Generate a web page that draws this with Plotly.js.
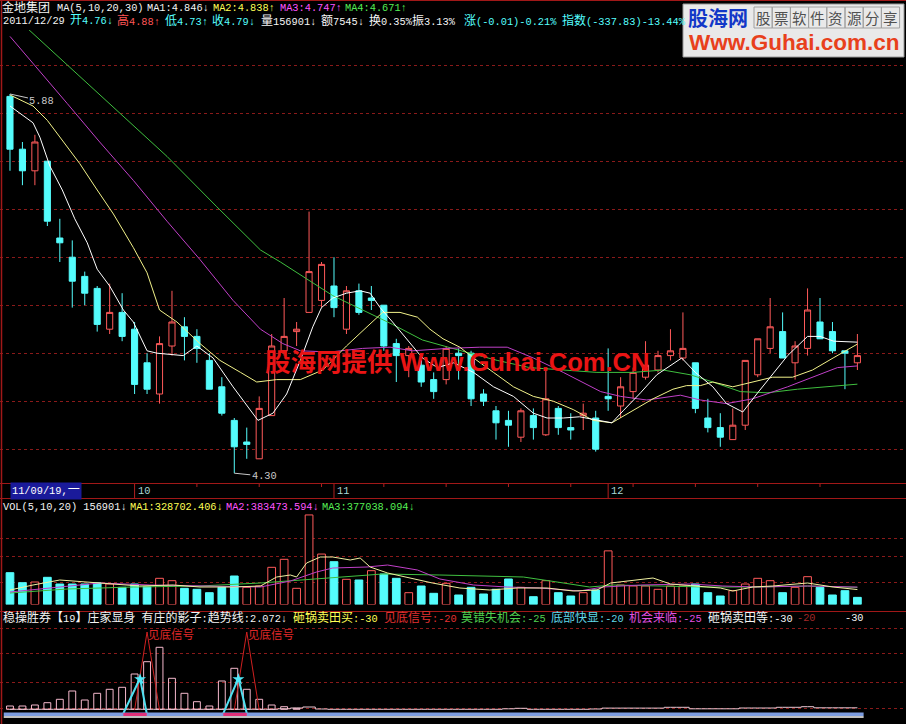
<!DOCTYPE html>
<html><head><meta charset="utf-8">
<script src="https://cdn.plot.ly/plotly-3.0.1.min.js"></script>
<style>html,body{margin:0;padding:0;background:#000;}#chart{width:906px;height:724px;}</style>
</head><body><div id="chart"></div>
<script>
// ---------------- DATA ----------------
const dates = [
 '2011-09-19','2011-09-20','2011-09-21','2011-09-22','2011-09-23','2011-09-26','2011-09-27','2011-09-28','2011-09-29','2011-09-30',
 '2011-10-10','2011-10-11','2011-10-12','2011-10-13','2011-10-14','2011-10-17','2011-10-18','2011-10-19','2011-10-20','2011-10-21',
 '2011-10-24','2011-10-25','2011-10-26','2011-10-27','2011-10-28','2011-10-31',
 '2011-11-01','2011-11-02','2011-11-03','2011-11-04','2011-11-07','2011-11-08','2011-11-09','2011-11-10','2011-11-11','2011-11-14',
 '2011-11-15','2011-11-16','2011-11-17','2011-11-18','2011-11-21','2011-11-22','2011-11-23','2011-11-24','2011-11-25','2011-11-28',
 '2011-11-29','2011-11-30',
 '2011-12-01','2011-12-02','2011-12-05','2011-12-06','2011-12-07','2011-12-08','2011-12-09','2011-12-12','2011-12-13','2011-12-14',
 '2011-12-15','2011-12-16','2011-12-19','2011-12-20','2011-12-21','2011-12-22','2011-12-23','2011-12-26','2011-12-27','2011-12-28','2011-12-29'];
const openP  = [5.87,5.65,5.56,5.60,5.28,5.20,5.12,5.07,4.90,4.97, 4.90,4.76,4.63,4.83,4.91,4.87,4.77,4.66,4.52,4.43, 4.36,4.54,4.81,4.89,4.97,5.02,5.08,4.90,5.06,5.03, 5.00,4.84,4.79,4.75,4.69,4.69,4.80,4.80,4.63,4.56, 4.52,4.45,4.54,4.46,4.57,4.49,4.54,4.53,4.62,4.58, 4.64,4.70,4.73,4.79,4.78,4.76,4.53,4.49,4.44,4.50, 4.71,4.82,4.89,4.76,4.82,4.93,4.89,4.81,4.76];
const highP  = [5.88,5.68,5.71,5.60,5.36,5.27,5.14,5.08,5.09,5.05, 4.93,4.80,4.87,5.06,4.95,4.90,4.80,4.70,4.53,4.49, 4.62,4.88,5.03,4.93,5.39,5.18,5.20,5.08,5.09,5.08, 5.00,4.86,4.83,4.77,4.72,4.83,4.82,4.81,4.65,4.58, 4.56,4.57,4.57,4.73,4.58,4.55,4.59,4.56,4.82,4.70, 4.74,4.85,4.81,4.90,4.97,4.76,4.61,4.55,4.57,4.77, 4.86,5.03,4.97,4.85,5.07,5.03,4.93,4.81,4.88];
const lowP   = [5.56,5.50,5.50,5.33,5.18,4.99,5.00,4.89,4.88,4.85, 4.63,4.63,4.59,4.79,4.77,4.76,4.65,4.54,4.30,4.36, 4.36,4.54,4.79,4.83,4.97,4.99,4.95,4.88,4.96,4.98, 4.81,4.68,4.70,4.66,4.61,4.67,4.69,4.58,4.58,4.44, 4.41,4.43,4.44,4.455,4.46,4.44,4.48,4.39,4.56,4.53, 4.61,4.69,4.72,4.77,4.77,4.55,4.47,4.41,4.44,4.48, 4.70,4.80,4.78,4.69,4.79,4.86,4.80,4.65,4.73];
const closeP = [5.65,5.56,5.68,5.35,5.26,5.10,5.05,4.92,4.97,4.87, 4.67,4.65,4.84,4.93,4.87,4.82,4.65,4.55,4.41,4.42, 4.57,4.83,4.87,4.90,5.14,5.17,4.99,5.06,4.97,5.02, 4.83,4.79,4.82,4.68,4.64,4.82,4.79,4.61,4.60,4.51, 4.50,4.56,4.49,4.61,4.49,4.48,4.55,4.40,4.61,4.66, 4.72,4.75,4.79,4.81,4.82,4.57,4.49,4.45,4.50,4.77, 4.86,4.91,4.78,4.83,4.98,4.86,4.81,4.80,4.79];
const volume = [700000,480000,495000,598000,451000,451000,451000,480000,451000,378000, 451000,392000,576000,524000,356000,334000,260000,378000,627000,378000,
 407000,818000,994000,356000,1970000,1110000,942000,554000,539000,744000, 671000,576000,260000,407000,246000,466000,209000,378000,231000,334000,
 561000,378000,172000,524000,260000,187000,260000,319000,1180000,429000, 407000,407000,334000,407000,407000,451000,260000,187000,304000,451000,
 576000,524000,260000,378000,612000,378000,209000,304000,156901];

// price moving averages (x = candle index, v = price)
const ma5_i = [0,1.85,2.4,3.2,4.2,5.2,6.2,7.0,8.0,9.1,9.9,11.0,11.8,13.9,15.0,16.3,17.9,19.9,21.1,22.2,23.3,24.3,25.0,25.9,27.0,28.1,28.9,29.7,30.7,31.9,33.1,34.3,35.6,37.2,38.8,40.4,42.0,43.1,44.4,45.7,47.1,48.3,49.2,50.6,51.9,53.0,53.9,55.0,56.4,57.5,58.8,60.0,61.0,62.4,64.0,65.0,66.1,68.0];
const ma5_v = [5.83,5.76,5.70,5.58,5.48,5.36,5.26,5.15,5.08,4.98,4.93,4.81,4.80,4.79,4.83,4.78,4.66,4.52,4.55,4.63,4.77,4.91,4.99,5.03,5.05,5.06,5.05,4.99,4.93,4.855,4.78,4.74,4.76,4.72,4.66,4.62,4.55,4.53,4.53,4.535,4.52,4.51,4.56,4.635,4.71,4.75,4.78,4.72,4.66,4.59,4.555,4.635,4.70,4.79,4.87,4.87,4.85,4.846];
const ma10_i = [0,1.85,3.0,4.0,5.6,7.0,8.3,9.9,11.0,12.0,13.4,15.25,16.85,18.5,19.8,21.4,23.3,25.1,27.0,28.65,29.9,31.3,32.7,33.7,34.75,36.1,37.2,38.8,40.4,42.0,43.6,45.2,46.8,48.3,49.8,51.6,53.2,54.3,55.4,56.4,58.0,59.6,61.2,62.8,64.4,66.05,68.0];
const ma10_v = [5.876,5.83,5.77,5.70,5.59,5.48,5.38,5.24,5.135,4.98,4.93,4.84,4.77,4.72,4.68,4.69,4.69,4.73,4.83,4.91,4.97,4.97,4.95,4.90,4.86,4.825,4.78,4.72,4.66,4.62,4.60,4.565,4.52,4.51,4.555,4.61,4.65,4.665,4.665,4.68,4.66,4.68,4.70,4.70,4.73,4.78,4.838];
const ma20_i = [0,3.0,4.6,7.2,9.9,12.6,15.25,17.9,20.1,21.9,23.3,25.7,28.3,30.5,32.3,35.1,37.7,39.9,42.0,44.4,46.3,47.4,49.0,51.1,53.8,55.4,57.5,59.6,62.4,64.4,66.4,68.0];
const ma20_v = [6.12,5.94,5.84,5.68,5.52,5.35,5.19,5.02,4.90,4.84,4.81,4.805,4.82,4.825,4.81,4.82,4.825,4.825,4.78,4.72,4.67,4.64,4.62,4.605,4.625,4.605,4.59,4.61,4.66,4.70,4.74,4.747];
const ma30_i = [0,5.86,12.6,16.6,20.1,21.7,23.8,25.9,28.3,30.7,33.1,35.1,36.9,39.1,41.7,44.4,47.1,50.0,52.4,54.6,56.4,58.6,60.75,63.2,65.6,68.0];
const ma30_v = [6.22,5.94,5.62,5.41,5.23,5.18,5.11,5.04,4.98,4.92,4.855,4.825,4.80,4.77,4.74,4.73,4.72,4.72,4.73,4.71,4.68,4.64,4.635,4.65,4.66,4.671];

// volume moving averages
const vma5_i = [0,1.85,4.0,5.9,8.0,10.4,13.1,15.25,17.9,20.1,21.4,22.5,23.0,23.8,24.9,25.9,27.3,28.1,28.9,30.3,32.1,33.9,36.1,38.5,40.7,43.1,45.2,47.1,48.2,50.0,51.6,53.0,54.8,57.0,58.0,59.6,61.2,64.0,66.05,68.0];
const vma5_v = [319000,429000,539000,495000,451000,407000,429000,385000,385000,407000,605000,649000,605000,913000,1045000,1045000,979000,1023000,825000,693000,583000,473000,363000,319000,363000,363000,297000,319000,473000,539000,583000,451000,407000,363000,297000,385000,407000,473000,385000,328702];
const vma10_i = [0,3.2,7.2,11.2,15.25,20.1,22.5,24.6,25.9,28.65,30.3,32.7,34.5,37.2,39.9,42.5,45.7,47.6,50.6,54.6,57.2,60.0,64.0,68.0];
const vma10_v = [275000,363000,473000,429000,407000,385000,517000,715000,803000,825000,869000,759000,561000,429000,385000,363000,297000,385000,429000,451000,407000,385000,407000,383474];
const vma20_i = [0,4.6,9.9,15.25,20.1,23.3,25.9,29.9,34.5,37.2,41.2,43.9,46.5,48.4,51.9,55.9,60.0,64.0,68.0];
const vma20_v = [253000,341000,385000,407000,473000,539000,605000,671000,649000,627000,605000,495000,385000,429000,407000,385000,385000,407000,377038];

// indicator panel (稳操胜券)
const zjBars = [3.3,3.3,4.3,6.6,10,18.3,9.3,16,20,22,35.3,47.6,62,31,16,7.6,3.3,28.3,41,20,10,4.3,2.6,1];
const trendV = [0,0,0,0,0,0,0,0,0,0,0,0,0,0,0,0,0,0,0,0,0,0,0.5,1.3,2.3,0.3,0,0,0,0,0,0,0,0,0,0,0,0,0,0,0.5,1,0,0,0,0,0,0.3,1.2,1.2,1.2,1.2,1.2,2,2,0.5,0.5,0.5,0.5,1.3,1.3,1.3,2,2,2.6,1.5,1.5,1.5,1.5];
const cyanSig_i = [[9.1,10.44,10.97],[17.12,18.33,19.0]];
const cyanSig_v = [[-4,31,-4],[-4,31,-4]];
const redSig_i = [[10,11,12],[18,19,20]];
const redSig_v = [[-0.7,77.3,-0.7],[-0.7,77.3,-0.7]];
const redSigLabel = '见底信号';

// ---------------- LAYOUT HELPERS ----------------
const W = 906, H = 724;
const fx = x => x / W, fy = y => 1 - y / H;
const idx = dates.map((d, i) => i);
const FONT = 'Liberation Mono, DejaVu Sans Mono, Noto Sans CJK SC, monospace';
const CJKF = 'Noto Sans CJK SC, sans-serif';
const C = {white:'#f4f4f4', yellow:'#ffff55', magenta:'#ff55ff', green:'#55ee55', cyan:'#55ffff', red:'#ff5555',
  upRed:'#ff5a5a', downCyan:'#54fcfc', grid:'#8a1a1a', border:'#a01818'};
const cjk = s => s.replace(/([\u3000-\u303f\u4e00-\u9fff\uff00-\uffef]+)/g, '<span style="font-size:12px">$1</span>');

const ann = [];
function txt(s, x, y, color, size) {
  ann.push({xref:'paper', yref:'paper', x:fx(x), y:fy(y), xanchor:'left', yanchor:'middle', showarrow:false,
    text:cjk(s), font:{family:FONT, size:size || 10.3, color:color}, borderpad:0});
}
// header line 1
txt('金地集团', 1, 8, C.white);
txt('MA(5,10,20,30)', 56, 8, C.white);
txt('MA1:4.846↓', 146, 8, C.white);
txt('MA2:4.838↑', 212, 8, C.yellow);
txt('MA3:4.747↑', 279, 8, C.magenta);
txt('MA4:4.671↑', 344, 8, C.green);
// header line 2
txt('2011/12/29', 2, 21, C.white);
txt('开4.76↓', 69, 21, C.cyan);
txt('高4.88↑', 116, 21, C.red);
txt('低4.73↑', 164, 21, C.cyan);
txt('收4.79↓', 211, 21, C.cyan);
txt('量156901↓', 260, 21, C.white);
txt('额7545↓', 320, 21, C.white);
txt('换0.35%', 368, 21, C.white);
txt('振3.13%', 411, 21, C.white);
txt('涨(-0.01)-0.21%', 463, 21, C.cyan);
txt('指数(-337.83)-13.44%', 561, 21, C.cyan);
// volume header
txt('VOL(5,10,20) 156901↓', 2, 507, C.white);
txt('MA1:328702.406↓', 129, 507, C.yellow);
txt('MA2:383473.594↓', 225, 507, C.magenta);
txt('MA3:377038.094↓', 321, 507, C.green);
// indicator header
txt('稳操胜券【19】庄家显身 有庄的影子:趋势线:2.072↓', 2, 618, C.white);
txt('砸锅卖田买:-30', 292, 618, C.yellow);
txt('见底信号:-20', 383, 618, '#e03030');
txt('莫错失机会:-25', 460, 618, '#50d050');
txt('底部快显:-20', 550, 618, '#60d8e8');
txt('机会来临:-25', 628, 618, '#e050e0');
txt('砸锅卖田等:-30', 707, 618, C.white);
txt('-20', 796, 618, '#a02828');
txt('-30', 844, 618, C.white);

// date strip
ann.push({xref:'paper', yref:'paper', x:fx(10), y:fy(491), xanchor:'left', yanchor:'middle', showarrow:false,
  text:cjk('11/09/19,一'), font:{family:FONT, size:10.3, color:'#ffffff'}, bgcolor:'#1a1a9a', borderpad:1});
const monthStarts = idx.filter(i => i > 0 && dates[i].slice(5,7) !== dates[i-1].slice(5,7));
const shapes = [];
monthStarts.forEach(i => {
  ann.push({xref:'x', yref:'paper', x:i, y:fy(491), xanchor:'left', yanchor:'middle', xshift:1, showarrow:false,
    text:String(parseInt(dates[i].slice(5,7),10)), font:{family:FONT, size:10.3, color:'#a8d8d8'}});
  shapes.push({type:'line', xref:'x', yref:'paper', x0:i, x1:i, y0:fy(484), y1:fy(498), line:{color:'#b02020', width:1}});
});
idx.filter(i => i % 5 === 0 && i > 8 && !monthStarts.includes(i)).forEach(i => {
  shapes.push({type:'line', xref:'x', yref:'paper', x0:i, x1:i, y0:fy(484), y1:fy(487), line:{color:'#b02020', width:1}});
});

// high / low marks
const hiI = highP.indexOf(Math.max(...highP)), loI = lowP.indexOf(Math.min(...lowP));
ann.push({x:hiI, y:highP[hiI], xref:'x', yref:'y', text:highP[hiI].toFixed(2), showarrow:true, arrowhead:0, arrowwidth:1,
  arrowcolor:'#c8c8c8', ax:32, ay:7, font:{family:FONT, size:10.3, color:'#c8c8c8'}, standoff:0});
ann.push({x:loI, y:lowP[loI], xref:'x', yref:'y', text:lowP[loI].toFixed(2), showarrow:true, arrowhead:0, arrowwidth:1,
  arrowcolor:'#c8c8c8', ax:30, ay:3, font:{family:FONT, size:10.3, color:'#c8c8c8'}, standoff:0});

// signal labels
redSig_i.forEach((xs, k) => {
  ann.push({x:xs[1], y:redSig_v[k][1], xref:'x', yref:'y3', xanchor:'left', yanchor:'middle', yshift:-2, showarrow:false,
    text:redSigLabel, font:{family:CJKF, size:11.5, color:'#e02828'}, borderpad:0});
});

// central watermark
ann.push({xref:'paper', yref:'paper', x:fx(457), y:fy(362), xanchor:'center', yanchor:'middle', showarrow:false,
  text:'<b>股海网提供 Www.Guhai.Com.CN</b>', font:{family:'Liberation Sans, Noto Sans CJK SC, sans-serif', size:25.5, color:'#ea1414'}});

// logo box (top right)
shapes.push({type:'rect', xref:'paper', yref:'paper', x0:fx(683), x1:fx(904), y0:fy(4), y1:fy(57), fillcolor:'#e9e9e9', line:{color:'#9a9a9a', width:1}, layer:'above'});
ann.push({xref:'paper', yref:'paper', x:fx(686), y:fy(17), xanchor:'left', yanchor:'middle', showarrow:false,
  text:'<b>股海网</b>', font:{family:CJKF, size:20, color:'#1238c8'}});
const cellTxt = '股票软件资源分享'.split('');
cellTxt.forEach((ch, k) => {
  const x0 = 754 + k * 18.2;
  shapes.push({type:'rect', xref:'paper', yref:'paper', x0:fx(x0), x1:fx(x0 + 18.2), y0:fy(7), y1:fy(28), line:{color:'#a0a0a0', width:1}, fillcolor:'rgba(0,0,0,0)', layer:'above'});
  ann.push({xref:'paper', yref:'paper', x:fx(x0 + 9.1), y:fy(17.5), xanchor:'center', yanchor:'middle', showarrow:false,
    text:ch, font:{family:CJKF, size:14.5, color:'#505050'}});
});
ann.push({xref:'paper', yref:'paper', x:fx(794), y:fy(43), xanchor:'center', yanchor:'middle', showarrow:false,
  text:'<b>Www.Guhai.com.cn</b>', font:{family:'Liberation Sans, Arial, sans-serif', size:22.5, color:'#e8401c'}});

// frame lines
[[0.5],[483.5],[498.5],[611.5]].forEach(([y]) => {
  shapes.push({type:'line', xref:'paper', yref:'paper', x0:0, x1:1, y0:fy(y), y1:fy(y), line:{color:C.border, width:1}, layer:'below'});
});
shapes.push({type:'line', xref:'paper', yref:'paper', x0:fx(1.5), x1:fx(1.5), y0:0, y1:1, line:{color:C.border, width:1.5}});

// indicator baseline band and signal patches
shapes.push({type:'rect', xref:'x', yref:'y3', x0:-0.5, x1:68.5, y0:-6.7, y1:-3.2, fillcolor:'#7c9ce0', line:{width:0}});
shapes.push({type:'line', xref:'x', yref:'y3', x0:-0.5, x1:68.5, y0:-7.6, y1:-7.6, line:{color:'#ffffff', width:1.5}});
cyanSig_i.forEach(xs => {
  shapes.push({type:'rect', xref:'x', yref:'y3', x0:xs[0], x1:xs[2], y0:-6.7, y1:-3.6, fillcolor:'#e0307a', line:{width:0}});
});

// ---------------- TRACES ----------------
const traces = [];
traces.push({type:'candlestick', x:idx, open:openP, high:highP, low:lowP, close:closeP, xaxis:'x', yaxis:'y',
  increasing:{line:{color:C.upRed, width:1}, fillcolor:'#000000'},
  decreasing:{line:{color:C.downCyan, width:1}, fillcolor:C.downCyan}, whiskerwidth:0, hoverinfo:'skip'});
const line = (xs, ys, color, yaxis, w) => ({type:'scatter', mode:'lines', x:xs, y:ys, xaxis:'x', yaxis:yaxis,
  line:{color:color, width:w || 1}, hoverinfo:'skip'});
traces.push(line(ma30_i, ma30_v, '#3fbf3f', 'y'));
traces.push(line(ma20_i, ma20_v, '#c040c8', 'y'));
traces.push(line(ma10_i, ma10_v, '#f2f28a', 'y'));
traces.push(line(ma5_i, ma5_v, '#ffffff', 'y'));

// volume: colour by close vs previous close
const volUp = closeP.map((c, i) => i === 0 ? c >= openP[0] : c >= closeP[i-1]);
traces.push({type:'bar', x:idx, y:volume, xaxis:'x', yaxis:'y2', width:0.62,
  marker:{color:volUp.map(u => u ? '#000000' : C.downCyan), line:{color:volUp.map(u => u ? C.upRed : C.downCyan), width:1}},
  hoverinfo:'skip'});
traces.push(line(vma20_i, vma20_v, '#40c040', 'y2'));
traces.push(line(vma10_i, vma10_v, '#c040c8', 'y2'));
traces.push(line(vma5_i, vma5_v, '#f0f0a0', 'y2'));

// indicator
traces.push({type:'bar', x:idx.slice(0, zjBars.length), y:zjBars, xaxis:'x', yaxis:'y3', width:0.55,
  marker:{color:'rgba(0,0,0,0)', line:{color:'#f4b8cc', width:1}}, hoverinfo:'skip'});
traces.push({type:'scatter', mode:'lines', x:idx, y:trendV, xaxis:'x', yaxis:'y3', line:{color:'#ecc8d4', width:1, shape:'hvh'}, hoverinfo:'skip'});
redSig_i.forEach((xs, k) => traces.push(line(xs, redSig_v[k], '#d02020', 'y3')));
cyanSig_i.forEach((xs, k) => traces.push(line(xs, cyanSig_v[k], '#50e0f0', 'y3', 2)));
traces.push({type:'scatter', mode:'markers', x:cyanSig_i.map(a => a[1]), y:cyanSig_v.map(a => a[1] - 1), xaxis:'x', yaxis:'y3',
  marker:{symbol:'star', size:9, color:'#50e8f8'}, hoverinfo:'skip'});

// ---------------- LAYOUT ----------------
const priceTicks = [4.4,4.6,4.8,5.0,5.2,5.4,5.6,5.8,6.0];
const gridAxis = {showticklabels:false, ticks:'', zeroline:false, showline:false, gridcolor:C.grid, griddash:'dot', gridwidth:1, fixedrange:true};
const layout = {
  width:W, height:H, margin:{l:0, r:0, t:0, b:0}, paper_bgcolor:'#000000', plot_bgcolor:'#000000',
  showlegend:false, hovermode:false, barmode:'overlay',
  xaxis:{domain:[0,1], range:[-0.8, 71.9], showgrid:false, zeroline:false, showticklabels:false, ticks:'', showline:false,
    rangeslider:{visible:false}, fixedrange:true},
  yaxis:Object.assign({}, gridAxis, {domain:[fy(482), fy(30)], range:[5.88 - (482-94)/240, 5.88 + (94-30)/240], tickvals:priceTicks}),
  yaxis2:Object.assign({}, gridAxis, {anchor:'x', domain:[fy(604.5), fy(500)], range:[0, (604.5-500)*22000], tickvals:[495000,1067000,1463000]}),
  yaxis3:Object.assign({}, gridAxis, {anchor:'x', domain:[fy(720), fy(612)], range:[-10.7, 97.3], tickvals:[1.3,27.3,56.3,81.3]}),
  shapes:shapes, annotations:ann
};
Plotly.newPlot('chart', traces, layout, {staticPlot:true, displayModeBar:false});
</script>
</body></html>
